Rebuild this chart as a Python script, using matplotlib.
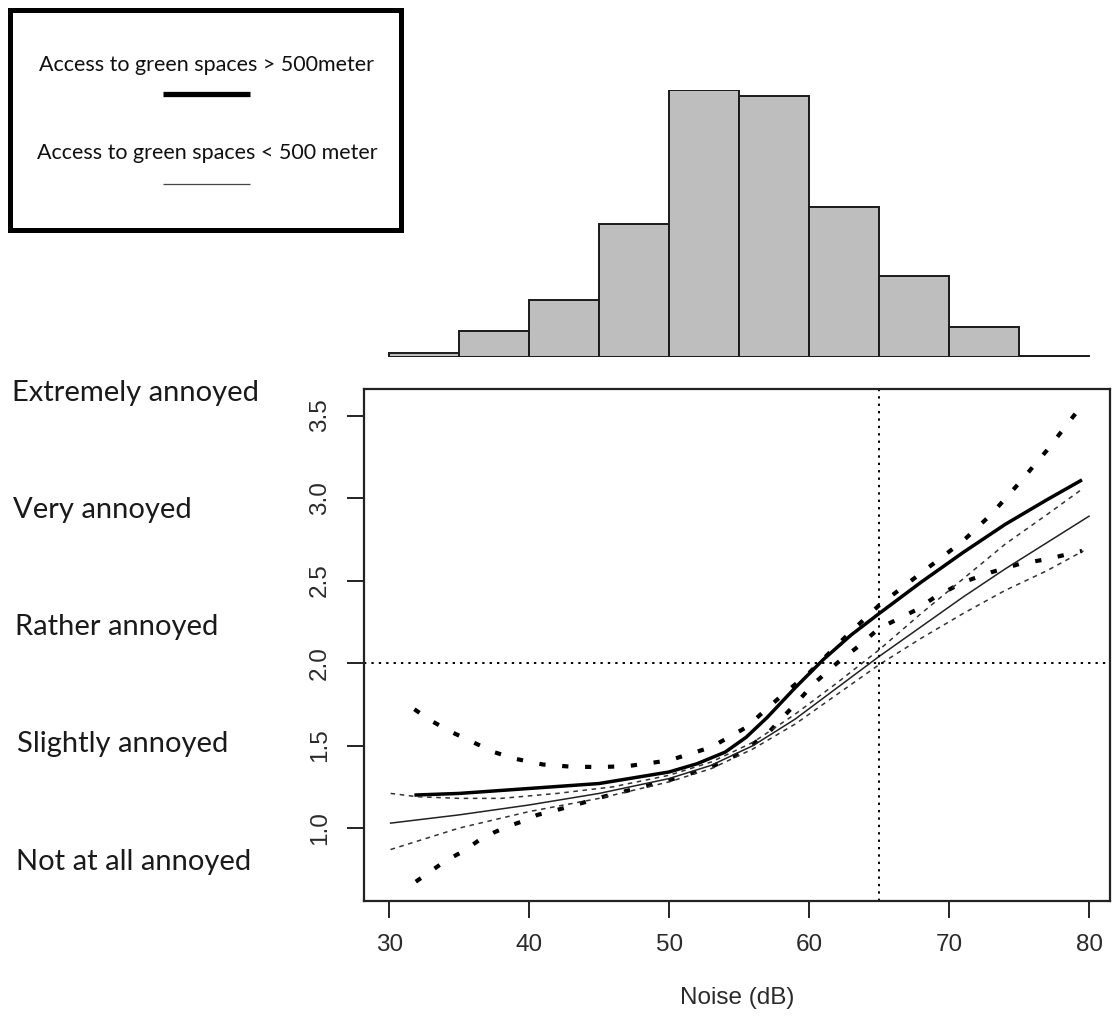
import matplotlib
matplotlib.use('Agg')
import matplotlib.pyplot as plt

# ── DATA ─────────────────────────────────────────────────────────────────────
# histogram of noise exposure, 5 dB bins
bin_edges = [30, 35, 40, 45, 50, 55, 60, 65, 70, 75, 80]
bin_counts = [9, 52, 114, 266, 534, 522, 300, 162, 60, 3]

# access to green spaces > 500 m: fit + confidence band
far_x = [31.8, 35, 40, 45, 50, 52, 54, 55.5, 57, 59, 61, 63, 65, 68, 71, 74,
         77, 79.5]
far_y = [1.20, 1.21, 1.24, 1.27, 1.34, 1.39, 1.46, 1.55, 1.67, 1.85, 2.02,
         2.17, 2.30, 2.49, 2.67, 2.84, 2.99, 3.11]
far_up_x = [31.8, 33, 34.5, 36, 37.5, 39, 41, 43, 45, 47, 50, 53, 55.5, 58,
            60, 62.5, 65, 67, 69, 71, 73, 75, 77, 79.2]
far_up_y = [1.72, 1.65, 1.58, 1.52, 1.46, 1.42, 1.385, 1.372, 1.37, 1.375,
            1.41, 1.49, 1.61, 1.80, 1.94, 2.15, 2.35, 2.48, 2.61, 2.74, 2.90,
            3.09, 3.29, 3.53]
far_lo_x = [31.9, 33, 34, 35.3, 36.4, 37.5, 38.6, 39.5, 40.6, 42, 43.7, 45.3,
            50, 53, 55, 57, 59, 60.4, 62, 63.5, 65, 67.6, 69, 71, 73, 75, 77, 79.5]
far_lo_y = [0.675, 0.74, 0.80, 0.86, 0.925, 0.974, 1.014, 1.04, 1.08, 1.11,
            1.15, 1.19, 1.29, 1.37, 1.45, 1.57, 1.75, 1.88, 2.00, 2.10, 2.21,
            2.32, 2.40, 2.49, 2.55, 2.60, 2.63, 2.68]

# access to green spaces < 500 m: fit + confidence band
near_x = [30.1, 35, 40, 45, 50, 53, 56, 59, 62, 65, 68, 71, 74, 77, 80]
near_y = [1.03, 1.08, 1.14, 1.21, 1.30, 1.38, 1.50, 1.66, 1.85, 2.04, 2.22,
          2.40, 2.57, 2.73, 2.89]
near_up_x = [30.1, 32, 35, 38, 42, 46, 50, 53, 56, 59, 62, 65, 68, 71, 74, 77, 79.6]
near_up_y = [1.21, 1.19, 1.18, 1.18, 1.21, 1.25, 1.32, 1.40, 1.52, 1.69, 1.88,
             2.08, 2.30, 2.51, 2.72, 2.90, 3.06]
near_lo_x = [30.1, 35, 40, 45, 50, 53, 56, 59, 62, 65, 68, 71, 74, 77, 79.6]
near_lo_y = [0.87, 1.00, 1.10, 1.18, 1.28, 1.36, 1.48, 1.63, 1.81, 1.99, 2.15,
             2.30, 2.44, 2.56, 2.68]

x_ticks = [30, 40, 50, 60, 70, 80]
y_ticks = [1.0, 1.5, 2.0, 2.5, 3.0, 3.5]
ref_noise = 65
ref_annoy = 2.0

annoy_labels = ["Extremely annoyed", "Very annoyed", "Rather annoyed",
                "Slightly annoyed", "Not at all annoyed"]
legend_labels = ["Access to green spaces > 500meter",
                 "Access to green spaces < 500 meter"]

# ── FIGURE ───────────────────────────────────────────────────────────────────
W, H = 1112, 1025
fig = plt.figure(figsize=(W / 100, H / 100), dpi=100)
XLIM = (28.2, 81.5)


def px_box(left, top, right, bottom):
    """pixel box -> figure fraction [l, b, w, h]"""
    return [left / W, 1 - bottom / H, (right - left) / W, (bottom - top) / H]


axis_font = dict(family='Liberation Sans', size=17.5, color='#2a2a2a')

# ── MAIN PANEL ───────────────────────────────────────────────────────────────
ax = fig.add_axes(px_box(364, 389, 1110, 901))
ax.set_xlim(*XLIM)
ax.set_ylim(0.558, 3.661)

dot_thick = (0, (1.5, 4.0))
ax.plot(far_x, far_y, color='black', lw=2.5, solid_capstyle='butt')
ax.plot(far_up_x, far_up_y, color='black', lw=3.0, linestyle=dot_thick)
ax.plot(far_lo_x, far_lo_y, color='black', lw=3.0, linestyle=dot_thick)

ax.plot(near_x, near_y, color='#222222', lw=1.1)
ax.plot(near_up_x, near_up_y, color='#333333', lw=1.1, linestyle=(0, (3, 3)))
ax.plot(near_lo_x, near_lo_y, color='#333333', lw=1.1, linestyle=(0, (3, 3)))

ax.axvline(ref_noise, color='black', lw=1.4, linestyle=(0, (1.2, 2.6)))
ax.axhline(ref_annoy, color='black', lw=1.4, linestyle=(0, (1.2, 2.6)))

for s in ax.spines.values():
    s.set_linewidth(1.6)
    s.set_color('#222222')

ax.set_xticks(x_ticks)
ax.set_yticks(y_ticks)
ax.set_xticklabels([str(v) for v in x_ticks], fontdict=axis_font)
ax.set_yticklabels([f"{v:.1f}" for v in y_ticks], fontdict=axis_font,
                   rotation=90, va='center')
ax.tick_params(length=12, width=1.4, color='#222222', pad=12)
ax.set_xlabel("Noise (dB)", fontdict=axis_font, labelpad=22)

# ── HISTOGRAM ────────────────────────────────────────────────────────────────
axh = fig.add_axes(px_box(364, 90, 1110, 357))
axh.bar(bin_edges[:-1], bin_counts, width=5, align='edge',
        color='#BEBEBE', edgecolor='#1a1a1a', linewidth=1.4)
axh.set_xlim(*XLIM)
axh.set_ylim(0, max(bin_counts))
axh.axis('off')

# ── ANNOYANCE SCALE LABELS ───────────────────────────────────────────────────
label_font = dict(family='Lato', size=21, color='#1a1a1a')
label_y = [393, 510, 627, 744, 862]
label_x = [12, 13, 15, 17, 16]
for txt, lx, ly in zip(annoy_labels, label_x, label_y):
    fig.text(lx / W, 1 - ly / H, txt, ha='left', va='center', **label_font)

# ── LEGEND BOX ───────────────────────────────────────────────────────────────
axl = fig.add_axes(px_box(9.5, 9.5, 400.5, 229.5))
axl.set_xlim(0, 1)
axl.set_ylim(0, 1)
axl.set_xticks([])
axl.set_yticks([])
for s in axl.spines.values():
    s.set_linewidth(3.6)
    s.set_color('black')
legend_font = dict(family='Lato', size=15.5, color='#111111')
axl.text(0.505, 0.748, legend_labels[0], ha='center', va='center', **legend_font)
axl.plot([0.393, 0.615], [0.616, 0.616], color='black', lw=3.8,
         solid_capstyle='butt')
axl.text(0.505, 0.348, legend_labels[1], ha='center', va='center', **legend_font)
axl.plot([0.393, 0.615], [0.207, 0.207], color='#444444', lw=0.9,
         solid_capstyle='butt')

fig.savefig("out.png", dpi=100)
